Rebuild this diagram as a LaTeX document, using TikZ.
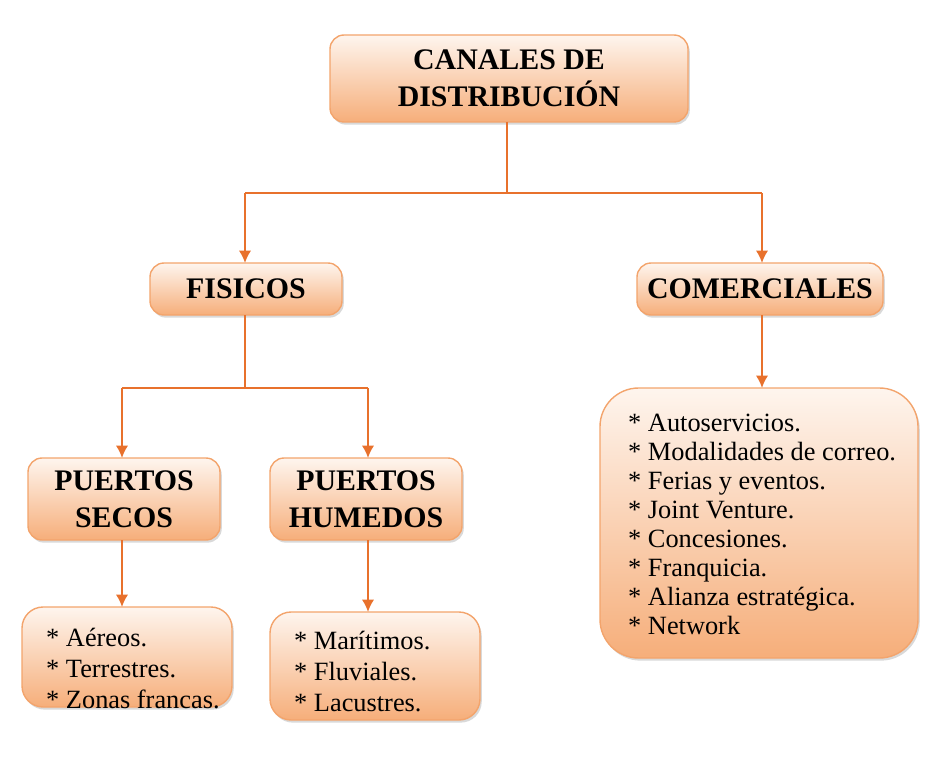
\documentclass[tikz,border=0pt]{standalone}
\usepackage{fontspec}
\setmainfont{Liberation Serif}
\usetikzlibrary{shadows}
\definecolor{boxtop}{HTML}{FEF5EE}
\definecolor{boxbot}{HTML}{F6AE7A}
\definecolor{boxline}{HTML}{F3A46C}
\definecolor{arr}{HTML}{E8712C}
\tikzset{
  x=0.02cm, y=-0.02cm,
  obox/.style={draw=boxline, line width=0.8pt, rounded corners=8pt, top color=boxtop, bottom color=boxbot,
    drop shadow={shadow xshift=1pt, shadow yshift=-1.5pt, opacity=0.3}},
  bigbox/.style={obox, rounded corners=22pt},
  conn/.style={draw=arr, line width=1.1pt},
  arrw/.style={conn, -{Latex[length=7pt,width=7pt]}},
  ttl/.style={font=\bfseries\fontsize{17}{21}\selectfont, align=center},
  lst/.style={font=\fontsize{15}{17.5}\selectfont, align=left, anchor=north west},
}
\usetikzlibrary{arrows.meta}
\begin{document}
\begin{tikzpicture}
\useasboundingbox (0,0) rectangle (952,760);
% boxes
\path[obox] (330,35) rectangle (688,122);
\node[ttl] (canales) at (509,78) {CANALES DE\\DISTRIBUCIÓN};
\path[obox] (150,263) rectangle (342,315);
\node[ttl] (fisicos) at (246,289) {FISICOS};
\path[obox] (637,263) rectangle (883,315);
\node[ttl] (comerciales) at (760,289) {COMERCIALES};
\path[obox] (28,458) rectangle (220,540);
\node[ttl] (secos) at (124,499) {PUERTOS\\SECOS};
\path[obox] (270,458) rectangle (462,540);
\node[ttl] (humedos) at (366,499) {PUERTOS\\HUMEDOS};
\path[obox, rounded corners=12pt] (22,607) rectangle (232,707);
\node[lst] (lsecos) at (40,622) {* Aéreos.\\* Terrestres.\\* Zonas francas.};
\path[obox, rounded corners=12pt] (270,612) rectangle (480,720);
\node[lst] (lhum) at (288,625) {* Marítimos.\\* Fluviales.\\* Lacustres.};
\path[bigbox] (600,388) rectangle (918,658);
\node[lst, font=\fontsize{15}{16.5}\selectfont] (lcom) at (622,408) {* Autoservicios.\\* Modalidades de correo.\\* Ferias y eventos.\\* Joint Venture.\\* Concesiones.\\* Franquicia.\\* Alianza estratégica.\\* Network};
% connectors
\coordinate (j1) at (507,193);
\coordinate (j2) at (245,388);
\draw[conn] (507,122) -- (j1);
\draw[conn] (245,193) -- (762,193);
\draw[arrw] (245,193) -- (245,263);
\draw[arrw] (762,193) -- (762,263);
\draw[conn] (245,315) -- (j2);
\draw[conn] (122,388) -- (368,388);
\draw[arrw] (122,388) -- (122,458);
\draw[arrw] (368,388) -- (368,458);
\draw[arrw] (122,540) -- (122,607);
\draw[arrw] (368,540) -- (368,612);
\draw[arrw] (762,315) -- (762,388);
\end{tikzpicture}
\end{document}
